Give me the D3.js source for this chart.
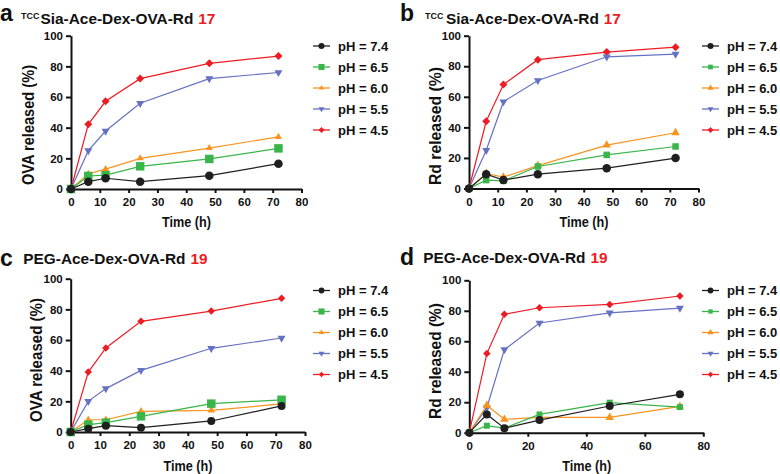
<!DOCTYPE html>
<html><head><meta charset="utf-8">
<script src="https://cdn.jsdelivr.net/npm/d3@7"></script>
<style>
html,body{margin:0;padding:0;background:#fff;}
svg{display:block;}
text{font-family:"Liberation Sans",Arial,Helvetica,sans-serif;font-weight:bold;}
</style></head><body>
<svg id="chart" width="780" height="474"></svg>
<script>
// ---------------- data ----------------
const timeH = [0, 6, 12, 24, 48, 72];
const phLabels = ["pH = 7.4", "pH = 6.5", "pH = 6.0", "pH = 5.5", "pH = 4.5"];
const xTicksTen = [0, 10, 20, 30, 40, 50, 60, 70, 80];
const xTicksTwenty = [0, 20, 40, 60, 80];
const yTicks = [0, 20, 40, 60, 80, 100];

// rows: pH 7.4, 6.5, 6.0, 5.5, 4.5
const panelA_OVA = [
  [0, 4.8, 7.0, 4.8, 8.7, 16.5],
  [0, 8.5, 9.0, 14.8, 19.6, 26.5],
  [0, 10, 13, 20, 26.7, 34],
  [0, 25, 37.8, 55.9, 72, 76],
  [0, 42.2, 57.2, 72, 82, 86.7]
];
const panelB_Rd = [
  [0, 9.4, 5.5, 9.4, 13.3, 19.9],
  [0, 5.5, 5.0, 14.4, 22, 27.5],
  [0, 9.8, 7.4, 15, 28.4, 36.5],
  [0, 25, 56.8, 70.7, 86.2, 88],
  [0, 44, 68, 84.3, 89.3, 92.5]
];
const panelC_OVA = [
  [0, 2.2, 4.1, 2.8, 7.2, 17],
  [0, 4.8, 6.1, 10.2, 18.5, 21],
  [0, 8, 8, 13.5, 14.1, 18.3],
  [0, 20, 28.3, 40.2, 54.6, 61.3],
  [0, 39.1, 54.8, 72.2, 78.9, 87.2]
];
const panelD_Rd = [
  [0, 12, 3, 8.3, 17.5, 25.2],
  [0, 4.6, 3, 12, 19.7, 16.8],
  [0, 18, 8.8, 10, 10, 17.3],
  [0, 16.4, 54.5, 72, 78.6, 81.8],
  [0, 51.9, 77.7, 82, 84.2, 89.7]
];

// ---------------- styles / layout ----------------
const colors = ["#1f1f1f", "#39b54a", "#f7931e", "#6571c2", "#ed1c24"];
const shapes = ["circle", "square", "triUp", "triDown", "diamond"];

const panels = [
  { letter: "a", sup: "TCC", name: "Sia-Ace-Dex-OVA-Rd", num: "17", ylabel: "OVA released (%)", ylen: 120,
    data: panelA_OVA, xticks: xTicksTen, x0: 71, x1: 301.5, y0: 189, y1: 35.7,
    lx: 0, ly: 21, supX: 21, mainX: 40.5, ty: 24, ylx: 34, yly: 125,
    tx: 186.5, tty: 227, legX: 313, legY: 46, msz: [8.5, 8.5, 7, 8, 8] },
  { letter: "b", sup: "TCC", name: "Sia-Ace-Dex-OVA-Rd", num: "17", ylabel: "Rd released (%)", ylen: 118,
    data: panelB_Rd, xticks: xTicksTen, x0: 469, x1: 698.5, y0: 188.5, y1: 35.7,
    lx: 400, ly: 21, supX: 425, mainX: 446, ty: 24, ylx: 441, yly: 126,
    tx: 584, tty: 227, legX: 702, legY: 46, msz: [8.5, 6.5, 8.5, 8, 8] },
  { letter: "c", sup: "", name: "PEG-Ace-Dex-OVA-Rd", num: "19", ylabel: "OVA released (%)", ylen: 124,
    data: panelC_OVA, xticks: xTicksTen, x0: 70.7, x1: 305, y0: 432, y1: 278.7,
    lx: 0, ly: 266, supX: 0, mainX: 23.3, ty: 263.5, ylx: 42, yly: 360,
    tx: 188, tty: 470.5, legX: 313, legY: 290.5, msz: [8, 8.5, 7.5, 8, 7.5] },
  { letter: "d", sup: "", name: "PEG-Ace-Dex-OVA-Rd", num: "19", ylabel: "Rd released (%)", ylen: 116,
    data: panelD_Rd, xticks: xTicksTwenty, x0: 469.3, x1: 703.3, y0: 432.7, y1: 280.3,
    lx: 400, ly: 265, supX: 0, mainX: 423.3, ty: 262.5, ylx: 441, yly: 361,
    tx: 586.7, tty: 471, legX: 702, legY: 290.5, msz: [8, 6, 8.5, 8, 7.5] }
];

const svg = d3.select("#chart");

function symbolPath(shape, w) {
  if (shape === "circle") return d3.symbol(d3.symbolCircle, Math.PI * (w / 2) * (w / 2))();
  if (shape === "square") return d3.symbol(d3.symbolSquare, w * w)();
  if (shape === "triUp" || shape === "triDown") return d3.symbol(d3.symbolTriangle, Math.sqrt(3) / 4 * w * w)();
  return d3.symbol(d3.symbolSquare, w * w / 2)();
}
function symbolRot(shape) {
  if (shape === "triDown") return " rotate(180)";
  if (shape === "diamond") return " rotate(45)";
  return "";
}

panels.forEach(p => {
  const g = svg.append("g");
  const x = d3.scaleLinear().domain([0, 80]).range([p.x0, p.x1]);
  const y = d3.scaleLinear().domain([0, 100]).range([p.y0, p.y1]);

  // title
  g.append("text").attr("x", p.lx).attr("y", p.ly).attr("font-size", 23).attr("fill", "#111").text(p.letter);
  if (p.sup) g.append("text").attr("x", p.supX).attr("y", p.ty - 5.5).attr("font-size", 9).attr("fill", "#111").text(p.sup);
  const t = g.append("text").attr("x", p.mainX).attr("y", p.ty).attr("font-size", 15.4).attr("fill", "#111");
  t.append("tspan").text(p.name);
  t.append("tspan").attr("fill", "#ed1c24").attr("dx", 5).text(p.num);

  // axes
  const xa = g.append("g").attr("transform", `translate(0,${p.y0})`)
    .call(d3.axisBottom(x).tickValues(p.xticks).tickSize(4).tickSizeOuter(0).tickPadding(5));
  const ya = g.append("g").attr("transform", `translate(${p.x0},0)`)
    .call(d3.axisLeft(y).tickValues(yTicks).tickSize(5).tickSizeOuter(0).tickPadding(3));
  [xa, ya].forEach(a => {
    a.select(".domain").attr("stroke", "#111").attr("stroke-width", 2);
    a.selectAll(".tick line").attr("stroke", "#111").attr("stroke-width", 2);
    a.selectAll(".tick text").attr("font-size", 11.5).attr("fill", "#111")
      .style("font-family", '"Liberation Sans",Arial,sans-serif').style("font-weight", "bold");
  });

  // axis titles
  g.append("text").attr("transform", `translate(${p.ylx},${p.yly}) rotate(-90)`)
    .attr("text-anchor", "middle").attr("font-size", 17).attr("fill", "#111")
    .attr("textLength", p.ylen).attr("lengthAdjust", "spacingAndGlyphs").text(p.ylabel);
  g.append("text").attr("x", p.tx).attr("y", p.tty).attr("text-anchor", "middle")
    .attr("font-size", 14).attr("fill", "#111").attr("textLength", 49).attr("lengthAdjust", "spacingAndGlyphs")
    .text("Time (h)");

  // series (draw pH 4.5 first, 7.4 last)
  const line = d3.line().x((d, i) => x(timeH[i])).y(d => y(d));
  for (let s = p.data.length - 1; s >= 0; s--) {
    const sg = g.append("g");
    sg.append("path").datum(p.data[s]).attr("d", line).attr("fill", "none")
      .attr("stroke", colors[s]).attr("stroke-width", 1.2);
    sg.selectAll("path.m").data(p.data[s]).enter().append("path").attr("class", "m")
      .attr("d", symbolPath(shapes[s], p.msz[s]))
      .attr("transform", (d, i) => `translate(${x(timeH[i])},${y(d)})` + symbolRot(shapes[s]))
      .attr("fill", colors[s]);
  }

  // legend
  const leg = g.append("g");
  phLabels.forEach((lab, i) => {
    const ly = p.legY + i * 21;
    leg.append("line").attr("x1", p.legX).attr("x2", p.legX + 17).attr("y1", ly).attr("y2", ly)
      .attr("stroke", colors[i]).attr("stroke-width", 1.3);
    leg.append("path").attr("d", symbolPath(shapes[i], p.msz[i] * 0.72))
      .attr("transform", `translate(${p.legX + 8.5},${ly})` + symbolRot(shapes[i])).attr("fill", colors[i]);
    leg.append("text").attr("x", p.legX + 25).attr("y", ly).attr("dy", "0.36em")
      .attr("font-size", 13).attr("fill", "#111").text(lab);
  });
});
</script>
</body></html>
